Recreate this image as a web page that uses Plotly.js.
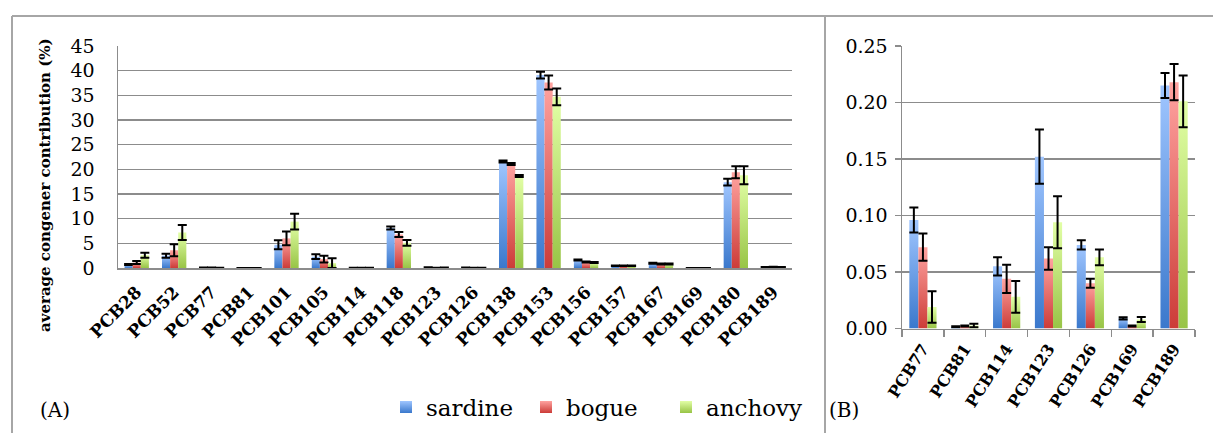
<!DOCTYPE html>
<html>
<head>
<meta charset="utf-8">
<script src="https://cdn.plot.ly/plotly-3.0.1.min.js"></script>
<style>html,body{margin:0;padding:0;background:#fff;}#gd{width:1213px;height:433px;}</style>
</head>
<body>
<div id="gd"></div>
<script>
// ---- data ----
var seriesNames = ['sardine', 'bogue', 'anchovy'];

var catsA = ['PCB28','PCB52','PCB77','PCB81','PCB101','PCB105','PCB114','PCB118','PCB123','PCB126','PCB138','PCB153','PCB156','PCB157','PCB167','PCB169','PCB180','PCB189'];
var sardineA    = [0.7, 2.5, 0.096, 0.0016, 4.7, 2.3, 0.055, 8.1, 0.152, 0.074, 21.6, 39.1, 1.6, 0.45, 0.95, 0.009, 17.4, 0.215];
var sardineAErr = [0.1, 0.4, 0.011, 0.0005, 0.9, 0.5, 0.008, 0.3, 0.024, 0.004, 0.2, 0.7, 0.1, 0.05, 0.1, 0.001, 0.7, 0.011];
var bogueA      = [1.1, 3.6, 0.072, 0.0022, 6.0, 1.8, 0.044, 6.8, 0.062, 0.040, 21.1, 37.6, 1.2, 0.45, 0.8, 0.0022, 19.4, 0.218];
var bogueAErr   = [0.3, 1.2, 0.012, 0.0005, 1.4, 0.7, 0.0125, 0.5, 0.010, 0.004, 0.2, 1.4, 0.1, 0.05, 0.1, 0.0005, 1.2, 0.016];
var anchovyA    = [2.6, 7.2, 0.019, 0.0026, 9.4, 1.0, 0.028, 5.1, 0.094, 0.063, 18.65, 34.7, 1.1, 0.45, 0.8, 0.008, 18.8, 0.201];
var anchovyAErr = [0.5, 1.5, 0.014, 0.0016, 1.6, 1.0, 0.014, 0.6, 0.023, 0.007, 0.2, 1.7, 0.1, 0.05, 0.1, 0.0022, 1.8, 0.023];

var catsB = ['PCB77','PCB81','PCB114','PCB123','PCB126','PCB169','PCB189'];
var sardineB    = [0.096, 0.0016, 0.055, 0.152, 0.074, 0.009, 0.215];
var sardineBErr = [0.011, 0.0005, 0.008, 0.024, 0.004, 0.001, 0.011];
var bogueB      = [0.072, 0.0022, 0.044, 0.062, 0.040, 0.0022, 0.218];
var bogueBErr   = [0.012, 0.0005, 0.0125, 0.010, 0.004, 0.0005, 0.016];
var anchovyB    = [0.019, 0.0026, 0.028, 0.094, 0.063, 0.008, 0.201];
var anchovyBErr = [0.014, 0.0016, 0.014, 0.023, 0.007, 0.0022, 0.023];

var ticksA = [0, 5, 10, 15, 20, 25, 30, 35, 40, 45];
var ticksB = [0, 0.05, 0.10, 0.15, 0.20, 0.25];

// ---- styling ----
var midColors = ['#6a9ee6', '#e8706c', '#c2e274'];
var gradStops = [['#a0c6ff', '#3a78cc'], ['#ffa3a0', '#cc3c38'], ['#e2ffa6', '#98c446']];
var W = 1213, H = 433;
function px(x) { return x / W; }
function py(y) { return 1 - y / H; }

function mk(name, cats, vals, errs, i, xa, ya, showleg) {
  return {
    type: 'bar', name: name, x: cats, y: vals, xaxis: xa, yaxis: ya,
    legendgroup: name, showlegend: showleg,
    marker: {color: midColors[i], line: {width: 0}},
    error_y: {type: 'data', array: errs, visible: true, color: '#000', thickness: 2, width: 4.5}
  };
}

var data = [
  mk(seriesNames[0], catsA, sardineA, sardineAErr, 0, 'x', 'y', true),
  mk(seriesNames[1], catsA, bogueA, bogueAErr, 1, 'x', 'y', true),
  mk(seriesNames[2], catsA, anchovyA, anchovyAErr, 2, 'x', 'y', true),
  mk(seriesNames[0], catsB, sardineB, sardineBErr, 0, 'x2', 'y2', false),
  mk(seriesNames[1], catsB, bogueB, bogueBErr, 1, 'x2', 'y2', false),
  mk(seriesNames[2], catsB, anchovyB, anchovyBErr, 2, 'x2', 'y2', false)
];

var serif = 'DejaVu Serif';
var gridCol = '#8c8c8c';
var frameCol = '#a6a6a6';

var layout = {
  width: W, height: H,
  margin: {l: 0, r: 0, t: 0, b: 0},
  paper_bgcolor: '#fff', plot_bgcolor: '#fff',
  barmode: 'group', bargap: 0.35, bargroupgap: 0,
  font: {family: serif, color: '#000'},
  showlegend: true,
  legend: {
    orientation: 'h', x: px(386), xanchor: 'left', y: py(407), yanchor: 'middle',
    entrywidth: 95, entrywidthmode: 'pixels',
    font: {family: serif, size: 23, color: '#000'}, bgcolor: 'rgba(0,0,0,0)'
  },
  xaxis: {
    domain: [px(118), px(792)], anchor: 'y', type: 'category',
    showgrid: false, showline: true, linecolor: gridCol, linewidth: 1.5,
    ticks: '', tickangle: -45, ticklabelstandoff: 6,
    tickfont: {family: serif, size: 17, weight: 'bold', color: '#000'}
  },
  yaxis: {
    domain: [py(268), py(46)], anchor: 'x', range: [0, 45],
    tickvals: ticksA, ticktext: ticksA.map(String),
    showgrid: true, gridcolor: gridCol, gridwidth: 1.5,
    showline: true, linecolor: gridCol, linewidth: 1.5,
    zeroline: false, ticks: '', ticklabelstandoff: 18,
    tickfont: {family: serif, size: 19, color: '#000'}
  },
  xaxis2: {
    domain: [px(902), px(1195)], anchor: 'y2', type: 'category',
    showgrid: false, showline: true, linecolor: gridCol, linewidth: 1.5,
    ticks: 'outside', tickson: 'boundaries', ticklen: 7, tickcolor: gridCol, tickwidth: 1.5,
    tickangle: -57, ticklabelstandoff: 3,
    tickfont: {family: serif, size: 16, weight: 'bold', color: '#000'}
  },
  yaxis2: {
    domain: [py(328.5), py(46)], anchor: 'x2', range: [0, 0.25],
    tickvals: ticksB, ticktext: ticksB.map(function (v) { return v.toFixed(2); }),
    showgrid: true, gridcolor: gridCol, gridwidth: 1.5,
    showline: true, linecolor: gridCol, linewidth: 1.5,
    zeroline: false, ticks: 'outside', ticklen: 6, tickcolor: gridCol, tickwidth: 1.5,
    ticklabelstandoff: 3,
    tickfont: {family: serif, size: 19, color: '#000'}
  },
  annotations: [
    {text: 'average congener contribution (%)', xref: 'paper', yref: 'paper',
     x: px(45), y: py(185), xanchor: 'center', yanchor: 'middle', textangle: -90, showarrow: false,
     font: {family: serif, size: 15, weight: 'bold', color: '#000'}},
    {text: '(A)', xref: 'paper', yref: 'paper', x: px(38), y: py(410), xanchor: 'left', yanchor: 'middle',
     showarrow: false, font: {family: serif, size: 20, color: '#000'}},
    {text: '(B)', xref: 'paper', yref: 'paper', x: px(827), y: py(410), xanchor: 'left', yanchor: 'middle',
     showarrow: false, font: {family: serif, size: 20, color: '#000'}}
  ],
  shapes: [
    {type: 'line', xref: 'paper', yref: 'paper', x0: px(12), x1: 1, y0: py(16), y1: py(16), line: {color: frameCol, width: 2}},
    {type: 'line', xref: 'paper', yref: 'paper', x0: px(12), x1: px(12), y0: py(16), y1: 0, line: {color: frameCol, width: 2}},
    {type: 'line', xref: 'paper', yref: 'paper', x0: px(825), x1: px(825), y0: py(16), y1: 0, line: {color: frameCol, width: 2}}
  ]
};

var gd = document.getElementById('gd');
Plotly.newPlot(gd, data, layout, {staticPlot: true, displayModeBar: false}).then(function () {
  var ns = 'http://www.w3.org/2000/svg';
  var svg = gd.querySelector('svg.main-svg');
  var defs = svg.querySelector('defs') || svg.insertBefore(document.createElementNS(ns, 'defs'), svg.firstChild);
  gradStops.forEach(function (s, i) {
    var lg = document.createElementNS(ns, 'linearGradient');
    lg.setAttribute('id', 'barGrad' + i);
    lg.setAttribute('x1', '0'); lg.setAttribute('y1', '0');
    lg.setAttribute('x2', '0'); lg.setAttribute('y2', '1');
    [[0, s[0]], [1, s[1]]].forEach(function (st) {
      var e = document.createElementNS(ns, 'stop');
      e.setAttribute('offset', st[0]);
      e.setAttribute('stop-color', st[1]);
      lg.appendChild(e);
    });
    defs.appendChild(lg);
  });
  var traces = gd.querySelectorAll('.barlayer .trace.bars');
  traces.forEach(function (t, idx) {
    var k = idx % 3;
    t.querySelectorAll('.point path').forEach(function (p) { p.style.fill = 'url(#barGrad' + k + ')'; });
  });
  var legTraces = gd.querySelectorAll('.legend .traces');
  legTraces.forEach(function (t, idx) {
    t.querySelectorAll('.legendpoints path').forEach(function (p) { p.style.fill = 'url(#barGrad' + (idx % 3) + ')'; });
  });
  gd.querySelectorAll('.legend text.legendtext').forEach(function (t) { t.style.fontFamily = "'DejaVu Serif', serif"; });
});
</script>
</body>
</html>
